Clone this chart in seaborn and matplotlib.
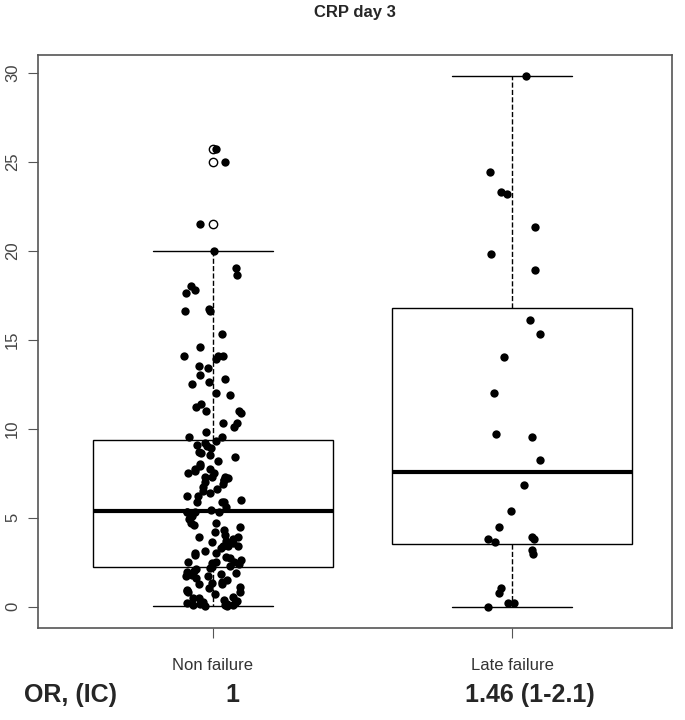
import matplotlib
matplotlib.use("Agg")
import matplotlib.pyplot as plt
import numpy as np
import pandas as pd
import seaborn as sns

# CRP at day 3
non_failure = [25.7, 25.0, 21.5, 20.0, 19.0, 18.6, 18.0, 17.8, 17.6, 16.7, 16.6, 16.6,
               15.3, 14.6, 14.1, 14.1, 14.1, 13.9, 13.5, 13.4, 13.0, 12.8, 12.6, 12.5,
               12.0, 11.9, 11.4, 11.2, 11.0, 11.0, 10.9, 10.3, 10.3, 10.1, 9.8, 9.55, 9.55,
               9.3, 9.2, 9.1, 9.0, 8.9, 8.7, 8.65, 8.5, 8.4, 8.2, 8.0, 7.9, 7.75, 7.75,
               7.6, 7.5, 7.5, 7.3, 7.3, 7.3, 7.25, 7.1, 7.1, 7.0, 6.9, 6.7, 6.6, 6.5,
               6.4, 6.2, 6.2, 6.0, 5.9, 5.85, 5.85, 5.6, 5.45, 5.3, 5.3, 5.3, 5.3,
               5.1, 4.9, 4.7, 4.7, 4.6, 4.5, 4.3, 4.2, 4.05, 3.9, 3.9, 3.8, 3.7, 3.65,
               3.6, 3.4, 3.4, 3.4, 3.3, 3.1, 3.0, 3.0, 2.9, 2.8, 2.75, 2.6, 2.5, 2.5,
               2.5, 2.45, 2.4, 2.3, 2.25, 2.15, 2.1, 2.0, 1.95, 1.9, 1.85, 1.8, 1.7,
               1.7, 1.6, 1.5, 1.4, 1.35, 1.25, 1.25, 1.1, 1.05, 0.95, 0.9, 0.8, 0.8,
               0.7, 0.55, 0.5, 0.5, 0.4, 0.3, 0.25, 0.2, 0.2, 0.15, 0.15, 0.1, 0.1,
               0.1, 0.05, 0.05]
late_failure = [29.8, 24.4, 23.3, 23.2, 21.3, 19.8, 18.9, 16.1, 15.3, 14.0, 12.0,
                9.72, 9.55, 8.26, 6.85, 5.39, 4.49, 3.93, 3.82, 3.82, 3.65, 3.2, 2.98,
                1.07, 0.79, 0.22, 0.22, 0.0]
groups = ["Non failure", "Late failure"]
or_labels = ["1", "1.46 (1-2.1)"]

df = pd.DataFrame({
    "group": [groups[0]] * len(non_failure) + [groups[1]] * len(late_failure),
    "crp": non_failure + late_failure,
})

sns.set_theme(style="white")
plt.rcParams["font.family"] = ["Liberation Sans", "DejaVu Sans"]

fig = plt.figure(figsize=(6.85, 7.2), dpi=100)
ax = fig.add_axes([0.0555, 0.128, 0.9255, 0.796])

sns.boxplot(data=df, x="group", y="crp", order=groups, ax=ax, width=0.8,
            color="white", linecolor="black", linewidth=1, whis=1.5,
            flierprops=dict(marker="o", markerfacecolor="white",
                            markeredgecolor="black", markersize=6),
            medianprops=dict(linewidth=3, color="black"),
            whiskerprops=dict(linestyle="--"))

np.random.seed(3)
sns.stripplot(data=df, x="group", y="crp", order=groups, ax=ax,
              color="black", size=6, jitter=0.1)

ax.set_xlim(-0.585, 1.535)
ax.set_ylim(-1.19, 31.0)
ax.set_yticks(range(0, 31, 5))
ax.set_yticklabels([str(v) for v in range(0, 31, 5)], rotation=90, va="center",
                   color="#444444", fontsize=12)
ax.set_xticklabels(groups, fontsize=12, color="#333333")
ax.tick_params(axis="both", direction="out", length=7, width=0.8, color="#555555",
               left=True, bottom=True)
ax.tick_params(axis="x", pad=15)
ax.tick_params(axis="y", pad=6)
ax.set_xlabel("")
ax.set_ylabel("")
for sp in ax.spines.values():
    sp.set_visible(True)
    sp.set_color("#555555")
    sp.set_linewidth(1.2)

fig.text(0.518, 1 - 13 / 720, "CRP day 3", fontsize=12, fontweight="bold",
         ha="center", va="center")

fig.text(0.103, 0.025, "OR, (IC)", fontsize=18, fontweight="bold", ha="center")
for i, lab in enumerate(or_labels):
    xd = ax.transData.transform((i, 0))[0]
    xf = fig.transFigure.inverted().transform((xd, 0))[0]
    fig.text(xf + (0.028 if i == 0 else 0.026), 0.025, lab, fontsize=18,
             fontweight="bold", ha="center")

fig.savefig("out.png", dpi=100)
